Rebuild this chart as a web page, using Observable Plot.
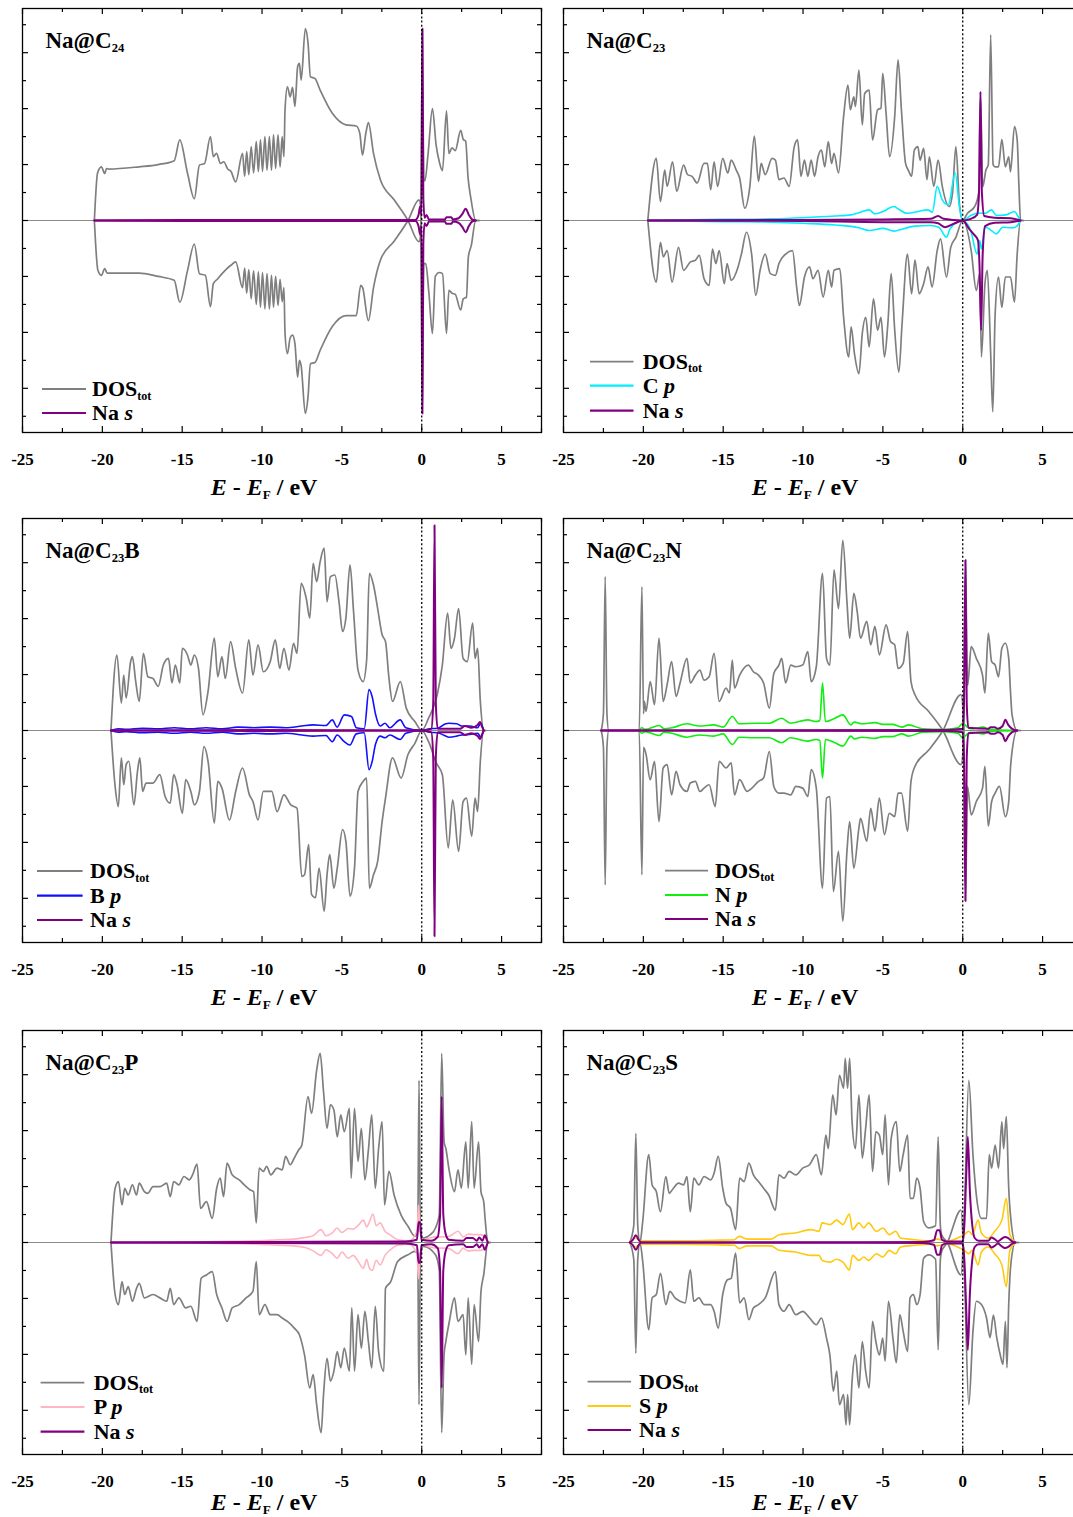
<!DOCTYPE html>
<html>
<head>
<meta charset="utf-8">
<script src="https://cdn.jsdelivr.net/npm/d3@7"></script>
<script src="https://cdn.jsdelivr.net/npm/@observablehq/plot@0.6"></script>
<style>
html, body { margin: 0; padding: 0; background: #fff; overflow: hidden; }
#root { position: relative; width: 1073px; height: 1517px; overflow: hidden; background: #fff; }
</style>
</head>
<body>
<div id="root"></div>
<script>
// ---------------- DATA: [E - EF (eV), DOS (states/eV)] ----------------
// Panel 1: Na@C24
const p1_tot_up = [[-20.5,0],[-20.3,8.5],[-20.06,9.6],[-19.85,8.4],[-19.74,9.3],[-19.6,9.2],[-17.7,9.6],[-16.5,10.0],[-15.5,10.7],[-15.15,14.4],[-14.67,8.5],[-14.24,3.9],[-13.92,9.9],[-13.6,10.2],[-13.23,15.0],[-13.05,11.4],[-12.85,12.0],[-12.6,10.2],[-12.4,10.5],[-12.15,9.2],[-11.95,8.8],[-11.65,6.9],[-11.22,12.0],[-11.09,7.9],[-10.96,12.3],[-10.83,8.2],[-10.68,13.2],[-10.53,8.5],[-10.36,14.1],[-10.23,8.75],[-10.1,14.4],[-9.97,8.8],[-9.82,15.0],[-9.69,9.0],[-9.54,15.0],[-9.41,9.0],[-9.28,15.3],[-9.15,9.3],[-9.0,15.3],[-8.87,9.6],[-8.74,15.0],[-8.63,11.4],[-8.56,19.8],[-8.41,23.9],[-8.24,22.1],[-8.09,23.8],[-7.94,20.4],[-7.77,27.5],[-7.66,28.1],[-7.55,25.1],[-7.29,34.3],[-7.12,31.7],[-6.97,25.7],[-6.69,25.4],[-6.36,23.3],[-5.61,19.2],[-4.75,17.1],[-4.1,16.9],[-3.88,15.6],[-3.71,11.7],[-3.5,15.6],[-3.34,17.5],[-3.02,12.0],[-2.59,7.3],[-1.73,3.7],[-0.86,0],[-0.17,-3.8],[-0.05,-2],[0.04,34.3],[0.12,7.5],[0.2,7.1],[0.4,12],[0.67,20.0],[0.9,13.5],[1.1,10.5],[1.3,8.9],[1.55,19.6],[1.7,12],[1.9,13],[2.1,12.5],[2.44,16.1],[2.6,14.5],[2.75,14.2],[2.9,7.7],[3.07,4.1],[3.38,0],[3.6,0]];
const p1_tot_dn = [[-20.5,0],[-20.28,-8.9],[-20.06,-9.8],[-19.85,-8.6],[-19.7,-9.4],[-17.7,-9.4],[-16.5,-10],[-15.5,-10.7],[-15.15,-14.6],[-14.67,-9],[-14.24,-4.2],[-13.92,-9.5],[-13.55,-9.8],[-13.23,-15.4],[-13.05,-11.3],[-12.8,-10.5],[-12.5,-9.5],[-12.2,-8.6],[-11.95,-8.0],[-11.65,-7.4],[-11.22,-12.0],[-11.09,-8.5],[-10.96,-13.0],[-10.83,-8.8],[-10.68,-14.0],[-10.53,-9.0],[-10.36,-15.0],[-10.23,-9.2],[-10.1,-15.5],[-9.97,-9.3],[-9.82,-15.8],[-9.69,-9.5],[-9.54,-15.8],[-9.41,-9.8],[-9.28,-15.5],[-9.15,-10],[-9.0,-15.2],[-8.87,-10.5],[-8.74,-14.5],[-8.63,-12],[-8.56,-20.2],[-8.41,-23.8],[-8.24,-21],[-8.09,-20.5],[-7.94,-22],[-7.77,-28],[-7.66,-25],[-7.55,-26],[-7.29,-34.5],[-7.12,-31.5],[-6.97,-25.6],[-6.69,-25.4],[-6.36,-23.2],[-5.61,-19],[-4.75,-17],[-4.1,-17],[-3.82,-11.6],[-3.7,-12],[-3.34,-17.9],[-3.02,-12],[-2.59,-7.1],[-1.73,-3.7],[-0.86,0],[-0.17,3.7],[-0.05,2],[0.04,-34.5],[0.12,-7.7],[0.25,-7.7],[0.45,-13],[0.67,-20.2],[0.85,-10],[1.1,-9.3],[1.3,-9.5],[1.55,-20.2],[1.7,-12.5],[1.9,-13],[2.1,-13.2],[2.44,-16],[2.6,-14],[2.8,-13.7],[2.92,-6.5],[3.1,-4.5],[3.38,0],[3.6,0]];
const p1_na_up = [[-20.5,0],[-15,0.1],[-8,0.1],[-0.4,0.1],[-0.2,1.0],[-0.1,2.5],[-0.03,1.0],[0.04,34.3],[0.1,4],[0.18,0.5],[0.3,1.0],[0.45,0.2],[1.45,0.2],[1.55,0.6],[1.85,0.6],[1.95,0.2],[2.3,0.4],[2.55,1.2],[2.75,2.1],[2.95,1.0],[3.15,0.2],[3.38,0]];
const p1_na_dn = [[-20.5,0],[-15,-0.1],[-8,-0.1],[-0.4,-0.1],[-0.2,-1.0],[-0.1,-2.5],[-0.03,-1.0],[0.04,-34.5],[0.1,-4],[0.18,-0.5],[0.3,-1.0],[0.45,-0.2],[1.45,-0.2],[1.55,-0.6],[1.85,-0.6],[1.95,-0.2],[2.3,-0.4],[2.55,-1.2],[2.75,-2.1],[2.95,-1.0],[3.15,-0.2],[3.38,0]];

// Panel 2: Na@C23
const p2_tot_up = [[-19.72,0],[-19.19,11.1],[-18.93,3.4],[-18.66,9.0],[-18.51,6.1],[-18.17,10.5],[-17.91,5.2],[-17.48,9.9],[-17.23,8.2],[-16.95,7.9],[-16.63,6.7],[-16.2,10.2],[-15.99,10.2],[-15.78,5.5],[-15.57,10.5],[-15.35,6.1],[-15.03,11.1],[-14.71,8.5],[-14.5,10.8],[-14.18,9.0],[-13.97,7.6],[-13.65,2.2],[-13.33,6.1],[-13.05,15.1],[-12.79,7.0],[-12.62,10.2],[-12.37,8.2],[-11.94,11.1],[-11.73,10.8],[-11.51,7.3],[-11.19,7.6],[-10.87,6.1],[-10.55,13.2],[-10.34,14.4],[-10.13,7.9],[-9.91,10.8],[-9.7,7.9],[-9.49,10.8],[-9.28,7.9],[-9.06,11.4],[-8.85,12.6],[-8.64,9.6],[-8.42,14.1],[-8.21,10.2],[-8.06,12.0],[-7.78,8.5],[-7.46,18.6],[-7.19,24.2],[-7.04,19.8],[-6.82,22.1],[-6.72,20.4],[-6.5,26.9],[-6.29,17.1],[-6.14,22.7],[-5.86,23.3],[-5.65,14.4],[-5.33,19.8],[-5.12,20.1],[-5.01,26.3],[-4.8,19.2],[-4.58,11.4],[-4.26,18.6],[-4.05,28.7],[-3.84,19.8],[-3.58,10.2],[-3.41,9.0],[-3.2,7.9],[-3.03,12.6],[-2.81,13.2],[-2.67,10.8],[-2.45,12.9],[-2.24,7.3],[-2.09,11.4],[-1.81,6.1],[-1.54,10.8],[-1.28,6.1],[-0.85,2.5],[-0.64,4.9],[-0.43,13.2],[-0.21,3.1],[0,0],[0.3,1.3],[0.75,2.5],[1.0,5],[1.11,23],[1.25,6],[1.45,9],[1.6,10],[1.75,33.2],[1.9,10],[2.03,9.6],[2.24,9.6],[2.45,14.5],[2.67,9.6],[2.88,11.4],[2.99,8.7],[3.24,16.8],[3.41,14.4],[3.52,6.1],[3.62,0],[3.8,0]];
const p2_tot_dn = [[-19.72,0],[-19.19,-11.0],[-18.93,-3.9],[-18.75,-6.5],[-18.51,-5.4],[-18.2,-11.0],[-17.8,-4.8],[-17.48,-8.9],[-17.05,-7.4],[-16.74,-7.1],[-16.5,-6.25],[-16.2,-10.4],[-15.88,-11.6],[-15.67,-5.1],[-15.46,-7.7],[-15.25,-5.4],[-14.93,-11.3],[-14.76,-7.7],[-14.5,-10.7],[-14.07,-8.3],[-13.86,-6.0],[-13.54,-2.1],[-13.22,-6.0],[-12.96,-13.4],[-12.69,-8.9],[-12.37,-6.0],[-12.05,-9.5],[-11.73,-9.8],[-11.51,-7.7],[-11.09,-6.0],[-10.66,-5.4],[-10.4,-11.9],[-10.23,-15.2],[-9.91,-10.1],[-9.59,-8.3],[-9.38,-10.4],[-9.06,-8.9],[-8.74,-13.7],[-8.42,-8.9],[-8.21,-11.9],[-8.06,-8.9],[-7.7,-8.6],[-7.46,-17.3],[-7.14,-24.4],[-6.99,-19.0],[-6.78,-23.8],[-6.5,-27.4],[-6.29,-20.2],[-6.07,-17.3],[-5.86,-22.6],[-5.59,-14.0],[-5.33,-19.6],[-5.12,-17.3],[-4.9,-24.4],[-4.69,-18.5],[-4.48,-9.5],[-4.26,-19.6],[-4.0,-27.1],[-3.8,-18.5],[-3.46,-6.0],[-3.2,-13.1],[-2.99,-7.1],[-2.73,-13.1],[-2.45,-11.3],[-2.17,-8.3],[-1.92,-11.9],[-1.6,-5.4],[-1.39,-3.3],[-1.02,-10.1],[-0.75,-4.8],[-0.43,-3.0],[0,0],[0.53,-5.4],[0.85,-12.5],[1.07,-9.5],[1.17,-24.4],[1.39,-11.3],[1.54,-8.9],[1.75,-23.8],[1.88,-34.2],[2.03,-16.7],[2.24,-10.1],[2.45,-15.5],[2.67,-10.1],[2.99,-10.1],[3.24,-14.6],[3.41,-6.0],[3.62,0],[3.8,0]];
const p2_cp_up = [[-19.7,0],[-15,0.2],[-12,0.3],[-10,0.5],[-8,0.8],[-7,1.0],[-6.5,1.4],[-5.86,1.9],[-5.5,1.2],[-5,1.6],[-4.3,2.5],[-4.05,2.1],[-3.5,1.3],[-2.8,1.6],[-2.2,1.9],[-1.9,1.5],[-1.6,6.1],[-1.28,3.7],[-0.9,2.8],[-0.47,8.5],[-0.21,2.5],[0,0],[0.5,0.9],[0.9,1.3],[1.4,1.3],[1.8,1.9],[2.1,0.9],[2.7,1.0],[3.24,1.6],[3.45,0.8],[3.62,0]];
const p2_cp_dn = [[-19.7,0],[-15,-0.2],[-12,-0.3],[-10,-0.5],[-8,-0.8],[-6.5,-1.3],[-5.86,-1.8],[-5,-1.4],[-4.3,-1.9],[-4.0,-1.7],[-3,-1.0],[-2,-0.9],[-1.5,-1.2],[-1.02,-3.0],[-0.8,-1.5],[0,0],[0.5,-1.8],[0.9,-6.0],[1.07,-3.6],[1.17,-5.1],[1.4,-1.2],[1.8,-1.8],[2.1,-2.4],[2.5,-1.2],[3.0,-1.3],[3.3,-1.2],[3.62,0]];
const p2_na_up = [[-19.7,0],[-10,0.1],[-5,0.2],[-2,0.3],[-1.54,0.8],[-1.2,0.3],[0,0],[0.5,0.3],[0.9,1],[1.02,5],[1.11,23.0],[1.2,5],[1.35,0.8],[2,0.5],[3,0.4],[3.62,0]];
const p2_na_dn = [[-19.7,0],[-10,-0.1],[-5,-0.3],[-2,-0.3],[-1.54,-0.5],[-1.1,-1.2],[-0.5,-0.5],[0,0],[0.4,-1.5],[0.7,-2.5],[0.95,-3.5],[1.05,-8],[1.15,-19.6],[1.25,-6],[1.4,-1],[2,-0.4],[3,-0.3],[3.62,0]];

// Panel 3: Na@C23B
const p3_tot_up = [[-19.46,0],[-19.09,13.5],[-18.81,4.9],[-18.66,9.9],[-18.51,5.8],[-18.23,12.3],[-18.12,13.2],[-17.91,8.75],[-17.69,5.2],[-17.43,13.8],[-17.15,9.6],[-16.83,9.3],[-16.5,7.9],[-16.18,11.7],[-15.86,12.9],[-15.64,8.5],[-15.43,11.7],[-15.15,8.5],[-14.99,14.7],[-14.67,13.5],[-14.46,11.7],[-14.24,13.5],[-13.98,11.1],[-13.7,2.8],[-13.38,7.0],[-12.99,16.5],[-12.77,9.6],[-12.51,13.2],[-12.3,9.3],[-11.97,15.9],[-11.65,11.1],[-11.22,6.7],[-10.83,16.2],[-10.57,9.9],[-10.25,15.3],[-9.92,10.5],[-9.49,12.3],[-9.17,16.2],[-8.89,11.1],[-8.63,14.7],[-8.31,10.8],[-8.03,15.6],[-7.81,13.8],[-7.55,26.3],[-7.23,23.6],[-7.01,20.1],[-6.8,29.9],[-6.58,26.6],[-6.36,30.2],[-6.11,32.6],[-5.93,23.0],[-5.72,27.5],[-5.44,27.8],[-5.18,23.0],[-4.96,17.7],[-4.75,20.1],[-4.49,29.6],[-4.27,21.3],[-3.99,10.8],[-3.67,8.75],[-3.45,12.6],[-3.28,28.1],[-3.02,26.0],[-2.76,21.8],[-2.48,17.1],[-2.27,15.9],[-2.05,9.3],[-1.83,5.2],[-1.34,8.75],[-0.97,4.0],[-0.43,1.6],[0,0],[0.43,2.2],[0.97,6.4],[1.29,11.7],[1.62,21.0],[1.83,14.7],[2.05,16.5],[2.31,21.8],[2.59,12.9],[2.85,12.3],[3.19,19.2],[3.34,12.9],[3.5,14.7],[3.67,5.2],[3.88,0],[4.0,0]];
const p3_tot_dn = [[-19.46,0],[-19.2,-10],[-19.0,-13.6],[-18.81,-4.9],[-18.66,-9.7],[-18.51,-6.1],[-18.34,-5.5],[-18.02,-13.3],[-17.8,-7.3],[-17.65,-4.9],[-17.48,-10.9],[-17.26,-9.4],[-16.83,-9.4],[-16.4,-7.9],[-16.07,-11.8],[-15.75,-13.0],[-15.53,-7.9],[-15.32,-9.7],[-14.99,-14.8],[-14.78,-8.8],[-14.46,-10.9],[-14.24,-13.3],[-13.92,-10.9],[-13.64,-2.9],[-13.38,-5.5],[-12.99,-16.5],[-12.77,-9.1],[-12.51,-10.3],[-12.04,-16.0],[-11.65,-10.9],[-11.22,-6.7],[-10.79,-11.5],[-10.57,-12.7],[-10.25,-16.0],[-9.92,-10.9],[-9.39,-10.9],[-9.06,-14.5],[-8.63,-11.5],[-8.2,-13.3],[-7.81,-13.9],[-7.51,-26.1],[-7.34,-25.8],[-7.08,-20.4],[-6.9,-29.3],[-6.65,-29.9],[-6.43,-24.6],[-6.11,-32.3],[-5.93,-25.8],[-5.76,-22.2],[-5.5,-28.2],[-5.29,-24.6],[-4.96,-17.7],[-4.75,-19.8],[-4.49,-29.6],[-4.21,-24.6],[-3.99,-10.9],[-3.67,-9.1],[-3.45,-8.5],[-3.28,-28.2],[-3.02,-25.8],[-2.76,-23.4],[-2.48,-16.3],[-2.27,-12.1],[-1.83,-4.9],[-1.29,-8.5],[-0.86,-4.3],[-0.43,-2.3],[0,0],[0.43,-2.0],[0.91,-5.8],[1.29,-7.9],[1.66,-21.0],[1.94,-12.4],[2.31,-21.6],[2.59,-12.7],[2.8,-12.1],[3.13,-18.9],[3.34,-12.1],[3.5,-14.5],[3.67,-5.5],[3.88,0],[4.0,0]];
const p3_bp_up = [[-19.46,0],[-19.0,0.3],[-18.5,0.2],[-17.5,0.4],[-16.5,0.3],[-15.5,0.5],[-14.5,0.3],[-13.5,0.5],[-12.5,0.3],[-11.5,0.6],[-10.5,0.5],[-9.5,0.6],[-8.5,0.5],[-7.5,0.8],[-6.8,1.0],[-6.0,0.9],[-5.6,1.9],[-5.3,0.6],[-4.85,2.8],[-4.4,2.5],[-4.1,0.5],[-3.6,0.3],[-3.3,7.3],[-3.1,6],[-2.9,3],[-2.6,0.8],[-2.3,1.3],[-2.0,0.5],[-1.35,1.9],[-1.0,0.5],[0,0],[0.5,0.3],[1.0,0.4],[1.5,1.2],[1.7,1.3],[2.2,1.2],[2.5,0.8],[3.0,0.8],[3.5,0.5],[3.7,1.3],[3.88,0]];
const p3_bp_dn = [[-19.46,0],[-19.0,-0.3],[-18.5,-0.2],[-17.5,-0.4],[-16.5,-0.3],[-15.5,-0.5],[-14.5,-0.3],[-13.5,-0.5],[-12.5,-0.3],[-11.5,-0.6],[-10.5,-0.5],[-9.5,-0.6],[-8.5,-0.5],[-7.5,-0.8],[-6.8,-1.0],[-6.0,-0.9],[-5.6,-2.0],[-5.3,-0.8],[-4.85,-2.0],[-4.5,-2.6],[-4.1,-0.6],[-3.6,-0.4],[-3.3,-7.0],[-3.1,-5.5],[-2.9,-2.5],[-2.6,-1.0],[-2.3,-1.3],[-2.0,-0.8],[-1.35,-1.6],[-1.0,-0.5],[0,0],[0.5,-0.3],[1.0,-0.4],[1.5,-1.0],[1.7,-1.2],[2.2,-1.0],[2.5,-0.8],[3.0,-0.7],[3.5,-0.5],[3.7,-1.2],[3.88,0]];
const p3_na_up = [[-19.46,0],[-10,0.1],[0,0],[0.6,0.3],[0.72,5],[0.8,36.7],[0.88,5],[1.0,0.3],[2.4,0.3],[2.7,0.8],[3.1,0.5],[3.5,1.0],[3.65,1.5],[3.8,0.5],[3.88,0]];
const p3_na_dn = [[-19.46,0],[-10,-0.1],[0,0],[0.6,-0.3],[0.72,-5],[0.8,-36.8],[0.88,-5],[1.0,-0.3],[2.4,-0.3],[2.7,-0.8],[3.1,-0.5],[3.5,-1.0],[3.65,-1.5],[3.8,-0.5],[3.88,0]];

// Panel 4: Na@C23N
const p4_tot_up = [[-22.64,0],[-22.5,3],[-22.39,27.5],[-22.28,3],[-22.17,0],[-20.26,0],[-20.09,25.7],[-19.99,3],[-19.94,5.2],[-19.83,3.4],[-19.57,8.75],[-19.3,4.6],[-19.02,16.5],[-18.76,5.2],[-18.51,8.2],[-18.23,12.3],[-17.95,6.1],[-17.7,8.5],[-17.27,12.9],[-17.06,8.5],[-16.74,9.9],[-16.46,10.8],[-16.2,9.0],[-15.88,9.6],[-15.57,13.8],[-15.25,5.2],[-14.82,7.6],[-14.61,6.7],[-14.43,12.6],[-14.29,7.6],[-13.97,9.9],[-13.43,11.7],[-13.11,10.5],[-12.79,9.9],[-12.47,8.5],[-12.11,4.0],[-11.83,10.2],[-11.51,11.7],[-11.34,12.9],[-11.09,8.5],[-10.77,11.7],[-10.45,11.4],[-10.02,11.7],[-9.7,14.1],[-9.49,8.75],[-9.17,11.4],[-8.78,28.1],[-8.53,12.9],[-8.32,11.7],[-8.06,28.7],[-7.78,21.8],[-7.51,34.0],[-7.25,23.0],[-7.08,16.5],[-6.82,24.5],[-6.61,21.3],[-6.4,16.5],[-6.01,19.5],[-5.76,15.3],[-5.5,18.6],[-5.22,13.5],[-4.8,18.9],[-4.52,15.9],[-4.26,15.3],[-4.05,11.1],[-3.73,12.0],[-3.45,17.7],[-3.24,8.75],[-2.99,6.4],[-2.13,3.4],[-1.24,0],[-0.11,-6.1],[0.05,-2],[0.17,30.5],[0.3,8],[0.38,10],[0.53,15.0],[0.85,12.9],[1.24,9.9],[1.39,6.7],[1.6,17.4],[1.81,12.3],[2.03,11.7],[2.24,9.6],[2.45,14.7],[2.67,15.6],[2.88,12.9],[2.99,7.0],[3.09,2.8],[3.41,0],[3.6,0]];
const p4_tot_dn = [[-22.64,0],[-22.5,-3],[-22.39,-27.6],[-22.28,-3],[-22.17,0],[-20.26,0],[-20.09,-25.8],[-19.99,-3],[-19.94,-3.2],[-19.83,-4.3],[-19.57,-8.8],[-19.3,-5.5],[-19.02,-16.3],[-18.76,-6.7],[-18.51,-6.1],[-18.23,-11.5],[-17.95,-7.3],[-17.7,-9.7],[-17.27,-10.9],[-17.06,-9.4],[-16.74,-9.1],[-16.46,-10.9],[-16.2,-10.3],[-15.88,-9.7],[-15.5,-13.6],[-15.25,-5.5],[-14.82,-6.7],[-14.5,-5.8],[-14.29,-11.5],[-13.97,-8.8],[-13.5,-10.9],[-13.2,-10.3],[-12.79,-9.1],[-12.47,-8.5],[-12.11,-3.75],[-11.83,-10.0],[-11.51,-11.2],[-11.2,-11.2],[-10.77,-11.5],[-10.45,-10.0],[-10.02,-10.3],[-9.7,-11.8],[-9.49,-7.0],[-9.17,-10.3],[-8.78,-28.2],[-8.53,-12.1],[-8.32,-11.8],[-8.1,-28.8],[-7.78,-21.6],[-7.51,-34.1],[-7.25,-21.6],[-7.08,-16.3],[-6.82,-24.6],[-6.5,-17.4],[-6.4,-15.7],[-6.01,-19.8],[-5.76,-13.9],[-5.5,-18.0],[-5.22,-12.1],[-4.9,-18.6],[-4.6,-14.8],[-4.26,-15.4],[-4.05,-11.2],[-3.84,-11.2],[-3.45,-18.0],[-3.24,-9.1],[-2.99,-6.4],[-2.13,-3.5],[-1.24,0],[-0.11,6.4],[0.05,2],[0.17,-30.5],[0.3,-10],[0.53,-15.1],[0.85,-12.7],[1.24,-10.3],[1.39,-6.4],[1.6,-17.1],[1.81,-12.7],[2.03,-11.2],[2.3,-10.0],[2.67,-15.4],[2.88,-12.7],[2.99,-6.7],[3.09,-3.75],[3.41,0],[3.6,0]];
const p4_np_up = [[-20.3,0],[-20.09,0.5],[-19.9,0.2],[-19.0,0.9],[-18.7,0.3],[-18.2,0.5],[-17.27,1.2],[-16.5,0.8],[-15.6,1.0],[-15.0,0.6],[-14.43,2.5],[-14.0,1.2],[-13.0,1.3],[-12.11,1.3],[-11.34,2.2],[-10.8,1.3],[-9.7,1.9],[-9.2,1.6],[-8.95,1.8],[-8.78,8.5],[-8.6,1.6],[-8.0,2.2],[-7.51,2.8],[-7.0,1.0],[-6.8,1.5],[-6.3,1.2],[-5.5,1.4],[-5.0,1.1],[-4.4,1.1],[-3.8,0.6],[-3.4,1.0],[-2.5,0.3],[-1.24,0.2],[-0.3,0.5],[0,1.3],[0.3,0.6],[0.5,0.3],[1.3,0.6],[1.6,0.2],[3.41,0]];
const p4_np_dn = [[-20.3,0],[-20.09,-0.5],[-19.9,-0.2],[-19.0,-0.9],[-18.7,-0.3],[-18.2,-0.5],[-17.27,-1.2],[-16.5,-0.8],[-15.6,-1.0],[-15.0,-0.6],[-14.43,-2.5],[-14.0,-1.2],[-13.0,-1.3],[-12.11,-1.3],[-11.34,-2.2],[-10.8,-1.3],[-9.7,-1.9],[-9.2,-1.6],[-8.95,-1.8],[-8.78,-8.5],[-8.6,-1.6],[-8.0,-2.2],[-7.51,-2.8],[-7.0,-1.0],[-6.8,-1.5],[-6.3,-1.2],[-5.5,-1.4],[-5.0,-1.1],[-4.4,-1.1],[-3.8,-0.6],[-3.4,-1.0],[-2.5,-0.3],[-1.24,-0.2],[-0.3,-0.5],[0,-1.3],[0.3,-0.6],[0.5,-0.3],[1.3,-0.6],[1.6,-0.2],[3.41,0]];
const p4_na_up = [[-22.64,0],[-1,0.1],[0,0.3],[0.08,5],[0.17,30.5],[0.25,5],[0.35,0.5],[1.6,0.3],[1.75,0.6],[2.0,0.6],[2.2,0.3],[2.5,0.8],[2.67,1.9],[2.85,1.0],[3.1,0.3],[3.41,0]];
const p4_na_dn = [[-22.64,0],[-1,-0.1],[0,-0.3],[0.08,-5],[0.17,-30.5],[0.25,-5],[0.35,-0.5],[1.6,-0.3],[1.75,-0.6],[2.0,-0.6],[2.2,-0.3],[2.5,-0.8],[2.67,-1.9],[2.85,-1.0],[3.1,-0.3],[3.41,0]];

// Panel 5: Na@C23P
const p5_tot_up = [[-19.46,0],[-19.2,9.7],[-18.99,10.9],[-18.77,6.7],[-18.6,9.7],[-18.38,8.5],[-18.12,10.3],[-17.86,8.5],[-17.69,10.6],[-17.37,9.1],[-17.15,8.8],[-16.83,10.0],[-16.4,10.0],[-15.97,10.6],[-15.75,8.2],[-15.53,10.9],[-15.21,10.3],[-14.89,11.8],[-14.56,11.2],[-14.35,12.1],[-14.07,14.0],[-13.85,6.1],[-13.48,7.3],[-13.12,4.3],[-12.84,9.7],[-12.62,11.5],[-12.41,8.2],[-12.19,14.2],[-11.87,12.1],[-11.43,11.2],[-11.11,10.3],[-10.74,9.4],[-10.53,9.1],[-10.36,3.5],[-10.18,13.3],[-9.92,12.7],[-9.71,13.6],[-9.45,12.1],[-9.06,13.3],[-8.74,13.0],[-8.52,15.4],[-8.24,13.9],[-7.98,15.1],[-7.72,16.5],[-7.51,17.4],[-7.12,26.1],[-6.9,23.1],[-6.58,30.8],[-6.36,33.8],[-6.15,27.0],[-5.93,20.4],[-5.72,24.6],[-5.5,23.7],[-5.29,18.9],[-5.07,22.8],[-4.85,19.8],[-4.53,24.0],[-4.42,11.5],[-4.21,24.0],[-3.99,14.5],[-3.78,20.4],[-3.56,11.2],[-3.34,16.5],[-3.13,22.8],[-2.91,9.7],[-2.7,16.8],[-2.48,21.6],[-2.33,6.7],[-2.05,12.7],[-1.73,8.5],[-1.29,4.9],[-0.86,2.9],[-0.43,1.1],[-0.25,2],[-0.17,29.0],[-0.08,2],[0.11,0.8],[0.54,1.4],[0.86,2.6],[1.1,5],[1.25,33.8],[1.4,18],[1.51,16.8],[1.73,12.7],[2.05,9.1],[2.27,13.0],[2.48,9.7],[2.76,18.0],[2.91,9.7],[3.13,21.6],[3.28,9.7],[3.56,18.0],[3.71,9.1],[3.88,7.3],[3.99,3.5],[4.14,0],[4.3,0]];
const p5_tot_dn = [[-19.46,0],[-19.2,-9.3],[-18.99,-11.1],[-18.77,-7.0],[-18.6,-9.3],[-18.38,-7.9],[-18.12,-10.5],[-17.86,-8.2],[-17.69,-7.3],[-17.37,-9.9],[-16.83,-9.3],[-16.4,-9.9],[-15.97,-10.5],[-15.75,-8.2],[-15.53,-11.1],[-15.21,-9.9],[-14.78,-11.7],[-14.46,-11.4],[-14.07,-14.1],[-13.81,-6.4],[-13.48,-5.8],[-13.12,-5.2],[-12.84,-9.3],[-12.51,-11.7],[-12.19,-14.1],[-11.87,-11.7],[-11.43,-11.1],[-11.0,-9.9],[-10.57,-8.75],[-10.36,-3.4],[-10.18,-12.9],[-9.82,-11.1],[-9.49,-12.9],[-9.06,-12.9],[-8.74,-13.5],[-8.41,-14.1],[-7.98,-15.3],[-7.66,-16.5],[-7.34,-20.1],[-7.01,-26.0],[-6.8,-23.6],[-6.58,-29.0],[-6.3,-34.0],[-6.15,-27.2],[-5.93,-20.7],[-5.72,-24.8],[-5.5,-23.0],[-5.29,-19.5],[-5.07,-22.4],[-4.85,-18.9],[-4.53,-23.0],[-4.38,-11.7],[-4.21,-23.0],[-3.99,-12.9],[-3.78,-18.9],[-3.56,-12.3],[-3.34,-17.7],[-3.13,-22.4],[-2.91,-11.4],[-2.7,-19.5],[-2.37,-23.0],[-2.27,-8.2],[-1.94,-7.0],[-1.51,-3.4],[-0.86,-2.2],[-0.43,-1.6],[-0.25,-2],[-0.17,-29.0],[-0.08,-2],[0.11,-0.7],[0.86,-2.2],[1.1,-5],[1.25,-34.0],[1.4,-20],[1.51,-17.7],[1.73,-14.1],[2.05,-9.9],[2.27,-14.1],[2.59,-12.9],[2.76,-20.1],[2.91,-9.9],[3.13,-21.8],[3.28,-11.1],[3.56,-17.7],[3.71,-8.75],[3.88,-5.8],[4.14,0],[4.3,0]];
const p5_pp_up = [[-19.46,0],[-15,0.1],[-12,0.2],[-10.3,0.3],[-9,0.5],[-8,0.6],[-7.3,0.9],[-6.8,1.2],[-6.3,2.3],[-6.0,1.2],[-5.6,1.7],[-5.3,2.6],[-5.0,1.8],[-4.6,2.5],[-4.3,2.4],[-4.0,3.0],[-3.65,4.0],[-3.45,2.8],[-3.3,3.5],[-3.05,5.1],[-2.85,3.0],[-2.6,3.5],[-2.3,2.0],[-2.0,1.4],[-1.5,0.5],[-0.8,0.3],[-0.3,2],[-0.2,6.7],[-0.1,2],[0.1,0.4],[0.5,0.8],[0.9,1.0],[1.5,1.0],[1.8,1.2],[2.27,2.0],[2.6,1.0],[2.9,1.5],[3.3,1.4],[3.7,1.4],[4.0,0.8],[4.14,0]];
const p5_pp_dn = [[-19.46,0],[-15,-0.1],[-12,-0.2],[-10.3,-0.3],[-9,-0.5],[-8,-0.6],[-7.3,-0.9],[-6.8,-1.5],[-6.3,-2.3],[-6.0,-1.3],[-5.6,-2.0],[-5.3,-2.8],[-5.0,-1.7],[-4.6,-2.8],[-4.3,-2.3],[-4.0,-3.3],[-3.65,-4.6],[-3.45,-3.0],[-3.3,-4.4],[-3.1,-5.0],[-2.85,-3.2],[-2.6,-4.0],[-2.3,-2.3],[-2.0,-1.4],[-1.5,-0.5],[-0.8,-0.3],[-0.3,-2],[-0.2,-6.5],[-0.1,-2],[0.1,-0.4],[0.5,-0.8],[0.9,-1.0],[1.5,-1.0],[1.8,-1.2],[2.27,-2.0],[2.6,-1.0],[2.9,-1.5],[3.3,-1.4],[3.7,-1.4],[4.0,-0.8],[4.14,0]];
const p5_na_up = [[-19.46,0],[-10,0.1],[-1,0.2],[-0.3,0.5],[-0.2,3.6],[-0.1,3.6],[-0.02,0.5],[0.6,0.3],[1.0,1.0],[1.15,5],[1.25,26.1],[1.35,5],[1.5,1.5],[1.7,0.5],[2.6,0.3],[2.8,0.8],[3.2,0.8],[3.45,0.3],[3.6,0.9],[3.8,0.3],[3.95,1.3],[4.1,0.3],[4.14,0]];
const p5_na_dn = [[-19.46,0],[-10,-0.1],[-1,-0.2],[-0.3,-0.5],[-0.2,-3.6],[-0.1,-3.6],[-0.02,-0.5],[0.6,-0.3],[1.0,-1.0],[1.15,-5],[1.25,-26.0],[1.35,-5],[1.5,-1.5],[1.7,-0.5],[2.6,-0.3],[2.8,-0.8],[3.2,-0.8],[3.45,-0.3],[3.6,-0.9],[3.8,-0.3],[3.95,-1.3],[4.1,-0.3],[4.14,0]];

// Panel 6: Na@C23S
const p6_tot_up = [[-20.85,0],[-20.6,3],[-20.47,19.5],[-20.35,3],[-20.21,0],[-20.04,3.75],[-19.66,15.7],[-19.45,10.3],[-19.19,9.1],[-18.93,5.5],[-18.59,11.8],[-18.38,8.8],[-18.12,9.7],[-17.8,10.6],[-17.48,10.3],[-17.27,11.8],[-17.06,5.5],[-16.84,11.5],[-16.52,10.3],[-16.2,11.8],[-15.78,11.2],[-15.57,12.4],[-15.31,15.4],[-15.03,9.7],[-14.82,7.0],[-14.54,6.1],[-14.22,2.3],[-13.97,11.5],[-13.69,10.9],[-13.39,14.2],[-13.11,12.1],[-12.79,10.9],[-12.47,9.7],[-12.15,8.5],[-11.73,5.8],[-11.51,12.1],[-11.19,11.5],[-10.87,12.7],[-10.45,12.1],[-10.02,13.3],[-9.59,13.9],[-9.17,15.7],[-8.85,12.1],[-8.57,19.2],[-8.42,16.8],[-8.14,26.4],[-7.93,22.8],[-7.72,29.9],[-7.46,27.6],[-7.36,32.9],[-7.21,27.6],[-7.08,32.9],[-6.93,21.6],[-6.72,16.8],[-6.5,26.4],[-6.29,15.1],[-6.08,20.4],[-5.86,26.4],[-5.65,12.7],[-5.44,19.8],[-5.22,19.2],[-5.01,15.7],[-4.86,22.8],[-4.65,10.3],[-4.48,18.6],[-4.16,21.6],[-3.94,12.7],[-3.73,15.7],[-3.45,19.2],[-3.3,7.9],[-3.09,7.9],[-2.88,11.5],[-2.67,9.7],[-2.45,3.75],[-2.13,2.6],[-1.7,3],[-1.54,18.9],[-1.4,3],[-1.32,1.4],[-0.96,0],[-0.11,-5.8],[0.1,5],[0.38,29.0],[0.64,15.7],[0.85,8.5],[1.17,4.3],[1.49,4.3],[1.66,15.7],[1.81,13.3],[2.03,17.4],[2.24,13.3],[2.45,21.6],[2.56,16.8],[2.73,22.5],[2.88,9.7],[2.99,4.9],[3.3,0],[3.5,0]];
const p6_tot_dn = [[-20.85,0],[-20.6,-3],[-20.47,-19.8],[-20.35,-3],[-20.21,0],[-20.04,-3.4],[-19.66,-15.6],[-19.45,-9.9],[-19.19,-9.3],[-18.93,-5.5],[-18.59,-11.1],[-18.34,-8.75],[-18.02,-9.9],[-17.7,-10.5],[-17.38,-10.8],[-17.06,-4.9],[-16.84,-10.5],[-16.52,-9.9],[-16.2,-11.1],[-15.78,-11.1],[-15.57,-12.3],[-15.31,-15.3],[-15.03,-9.3],[-14.75,-6.7],[-14.5,-6.4],[-14.22,-1.9],[-13.97,-10.8],[-13.69,-9.9],[-13.39,-13.8],[-13.11,-11.7],[-12.79,-11.1],[-12.37,-9.9],[-11.73,-5.2],[-11.51,-11.1],[-11.19,-12.3],[-10.87,-11.1],[-10.45,-12.9],[-10.02,-12.3],[-9.59,-13.5],[-9.17,-14.7],[-8.85,-13.5],[-8.53,-17.1],[-8.32,-20.1],[-8.1,-26.6],[-7.89,-23.0],[-7.72,-29.0],[-7.46,-27.2],[-7.31,-32.6],[-7.21,-27.2],[-7.08,-32.6],[-6.93,-24.8],[-6.72,-20.1],[-6.5,-26.0],[-6.29,-17.7],[-6.08,-23.0],[-5.86,-26.0],[-5.65,-14.1],[-5.44,-17.7],[-5.22,-20.1],[-5.01,-17.1],[-4.86,-21.2],[-4.65,-10.5],[-4.37,-17.1],[-4.16,-21.5],[-3.94,-12.9],[-3.73,-15.9],[-3.45,-19.5],[-3.3,-9.9],[-3.09,-9.3],[-2.88,-11.1],[-2.67,-9.3],[-2.45,-2.8],[-2.13,-2.2],[-1.7,-3],[-1.54,-19.2],[-1.4,-3],[-1.32,-1.6],[-0.96,0],[-0.11,5.8],[0.1,-5],[0.38,-29.0],[0.64,-15.9],[0.85,-10.5],[1.17,-11.1],[1.49,-13.5],[1.71,-17.0],[1.92,-13.0],[2.13,-17.0],[2.35,-20.1],[2.52,-21.8],[2.67,-14.1],[2.77,-22.4],[2.88,-11.1],[3.03,-3.4],[3.3,0],[3.5,0]];
const p6_sp_up = [[-20.85,0],[-20.5,0.8],[-20.2,0.3],[-18,0.3],[-15.5,0.4],[-14.3,0.5],[-14.0,1.1],[-13.5,0.6],[-12,0.6],[-11.5,1.4],[-10.5,1.7],[-9.5,2.3],[-9,2.0],[-8.8,3.5],[-8.3,3.2],[-7.9,4.0],[-7.5,3.2],[-7.1,5.1],[-6.9,2.3],[-6.5,3.5],[-6.2,2.6],[-5.9,3.5],[-5.4,2.0],[-5.0,2.6],[-4.6,1.4],[-4.2,2.0],[-3.9,0.8],[-3.0,0.5],[-2.0,0.3],[-1.6,0.6],[-1.0,0.2],[-0.1,1.1],[0.1,1.4],[0.38,2.0],[0.6,1.4],[0.96,4.0],[1.17,1.7],[1.6,0.8],[2.0,2.0],[2.45,4.0],[2.73,7.9],[2.95,1.4],[3.3,0]];
const p6_sp_dn = [[-20.85,0],[-20.5,-0.8],[-20.2,-0.3],[-18,-0.3],[-15.5,-0.4],[-14.3,-0.5],[-14.0,-1.1],[-13.5,-0.6],[-12,-0.6],[-11.5,-1.4],[-10.5,-1.7],[-9.5,-2.3],[-9,-2.3],[-8.8,-3.2],[-8.3,-3.5],[-7.9,-3.0],[-7.5,-3.5],[-7.1,-4.9],[-6.9,-2.3],[-6.5,-3.2],[-6.2,-2.6],[-5.9,-3.2],[-5.4,-2.0],[-5.0,-2.6],[-4.6,-1.4],[-4.2,-2.0],[-3.9,-0.8],[-3.0,-0.5],[-2.0,-0.3],[-1.6,-0.6],[-1.0,-0.2],[-0.1,-1.1],[0.1,-1.4],[0.38,-2.0],[0.6,-1.4],[0.96,-4.0],[1.17,-1.7],[1.6,-0.8],[2.0,-2.0],[2.45,-4.0],[2.73,-7.9],[2.95,-1.4],[3.3,0]];
const p6_na_up = [[-20.85,0],[-20.65,0.5],[-20.47,1.3],[-20.3,0.5],[-20.1,0],[-2.5,0.1],[-1.8,0.4],[-1.6,2.2],[-1.45,2.2],[-1.3,0.5],[-1.0,0.2],[0,0.2],[0.1,3],[0.22,12],[0.32,18.9],[0.45,9],[0.6,3],[0.75,0.8],[1.0,0.3],[1.6,0.3],[1.8,0.9],[2.0,0.6],[2.2,0.2],[2.5,0.8],[2.65,1.0],[2.85,0.8],[3.1,0.2],[3.3,0]];
const p6_na_dn = [[-20.85,0],[-20.65,-0.5],[-20.47,-1.3],[-20.3,-0.5],[-20.1,0],[-2.5,-0.1],[-1.8,-0.4],[-1.6,-2.2],[-1.45,-2.2],[-1.3,-0.5],[-1.0,-0.2],[0,-0.2],[0.1,-3],[0.22,-12],[0.32,-19.2],[0.45,-9],[0.6,-3],[0.75,-0.8],[1.0,-0.3],[1.6,-0.3],[1.8,-0.9],[2.0,-0.6],[2.2,-0.2],[2.5,-0.8],[2.65,-1.0],[2.85,-0.8],[3.1,-0.2],[3.3,0]];

// Ticks
const xTickVals = [-25,-22.5,-20,-17.5,-15,-12.5,-10,-7.5,-5,-2.5,0,2.5,5,7.5];
const xLabelVals = [-25,-20,-15,-10,-5,0,5];
const yTickVals = [-35,-30,-25,-20,-15,-10,-5,0,5,10,15,20,25,30,35];
const xDomain = [-25, 7.5];
const yMax = 37.9;

// ---------------- STYLE ----------------
const FONT = "'Liberation Serif', 'DejaVu Serif', serif";
const GRAY = "#7f7f7f", PURPLE = "#800080", CYAN = "#00eeff", BLUE = "#1010ff", GREEN = "#10ee10", PINK = "#ffb6c1", GOLD = "#ffc90e";
const W = 545, H = 502, ML = 22, MR = 4, MT = 8, MB = 70;
const FW = W - ML - MR, FH = H - MT - MB;
const pxX = FW / (xDomain[1] - xDomain[0]);
const pxY = FH / (2 * yMax);
const MAJ = 6, MIN = 4;

const S = (t, k) => [t, k];
const panels = [
  {left: 0, top: 0, titleDy: 63, title: [S("Na@C"), S("24", "sub")],
   lines: [[p1_tot_up, GRAY, 1.7], [p1_tot_dn, GRAY, 1.7], [p1_na_up, PURPLE, 2], [p1_na_dn, PURPLE, 2]],
   legend: {rows: [381, 405], lx: [20, 64], tx: 70, items: [[GRAY, [S("DOS"), S("tot", "sub")]], [PURPLE, [S("Na "), S("s", "i")]]]}},
  {left: 541, top: 0, titleDy: 63, title: [S("Na@C"), S("23", "sub")],
   lines: [[p2_tot_up, GRAY, 1.7], [p2_tot_dn, GRAY, 1.7], [p2_cp_up, CYAN, 1.6], [p2_cp_dn, CYAN, 1.6], [p2_na_up, PURPLE, 2], [p2_na_dn, PURPLE, 2]],
   legend: {rows: [353.7, 377.7, 402.7], lx: [27, 70.5], tx: 79.7, items: [[GRAY, [S("DOS"), S("tot", "sub")]], [CYAN, [S("C "), S("p", "i")]], [PURPLE, [S("Na "), S("s", "i")]]]}},
  {left: 0, top: 510, titleDy: 63, title: [S("Na@C"), S("23", "sub"), S("B")],
   lines: [[p3_tot_up, GRAY, 1.7], [p3_tot_dn, GRAY, 1.7], [p3_bp_up, BLUE, 1.6], [p3_bp_dn, BLUE, 1.6], [p3_na_up, PURPLE, 2], [p3_na_dn, PURPLE, 2]],
   legend: {rows: [353, 377.7, 402], lx: [15, 60.6], tx: 68, items: [[GRAY, [S("DOS"), S("tot", "sub")]], [BLUE, [S("B "), S("p", "i")]], [PURPLE, [S("Na "), S("s", "i")]]]}},
  {left: 541, top: 510, titleDy: 63, title: [S("Na@C"), S("23", "sub"), S("N")],
   lines: [[p4_tot_up, GRAY, 1.7], [p4_tot_dn, GRAY, 1.7], [p4_np_up, GREEN, 1.6], [p4_np_dn, GREEN, 1.6], [p4_na_up, PURPLE, 2], [p4_na_dn, PURPLE, 2]],
   legend: {rows: [352.7, 377, 401], lx: [102, 145], tx: 152, items: [[GRAY, [S("DOS"), S("tot", "sub")]], [GREEN, [S("N "), S("p", "i")]], [PURPLE, [S("Na "), S("s", "i")]]]}},
  {left: 0, top: 1022, titleDy: 56, title: [S("Na@C"), S("23", "sub"), S("P")],
   lines: [[p5_tot_up, GRAY, 1.7], [p5_tot_dn, GRAY, 1.7], [p5_pp_up, PINK, 1.6], [p5_pp_dn, PINK, 1.6], [p5_na_up, PURPLE, 2], [p5_na_dn, PURPLE, 2]],
   legend: {rows: [352.7, 377, 401.7], lx: [18.6, 62.4], tx: 71.7, items: [[GRAY, [S("DOS"), S("tot", "sub")]], [PINK, [S("P "), S("p", "i")]], [PURPLE, [S("Na "), S("s", "i")]]]}},
  {left: 541, top: 1022, titleDy: 56, title: [S("Na@C"), S("23", "sub"), S("S")],
   lines: [[p6_tot_up, GRAY, 1.7], [p6_tot_dn, GRAY, 1.7], [p6_sp_up, GOLD, 1.6], [p6_sp_dn, GOLD, 1.6], [p6_na_up, PURPLE, 2], [p6_na_dn, PURPLE, 2]],
   legend: {rows: [351.7, 376, 400], lx: [24.6, 68], tx: 76, items: [[GRAY, [S("DOS"), S("tot", "sub")]], [GOLD, [S("S "), S("p", "i")]], [PURPLE, [S("Na "), S("s", "i")]]]}}
];

function richText(g, x, y, parts, size, anchor) {
  const t = g.append("text")
    .attr("x", x).attr("y", y)
    .attr("font-family", FONT).attr("font-weight", "bold")
    .attr("font-size", size).attr("fill", "#000")
    .attr("text-anchor", anchor || "start")
    .style("white-space", "pre");
  let shifted = 0;
  for (const [s, k] of parts) {
    const ts = t.append("tspan").text(s);
    if (k === "i") ts.attr("font-style", "italic");
    if (k === "sub") {
      const d = size * 0.16;
      ts.attr("font-size", size * 0.55).attr("dy", d - shifted);
      shifted = d;
    } else if (shifted) {
      ts.attr("dy", -shifted);
      shifted = 0;
    }
  }
  return t;
}

const root = document.getElementById("root");
const isMajX = v => v % 5 === 0;
const isMajY = v => v % 10 === 0;

for (const p of panels) {
  const marks = [
    Plot.ruleY([0], {stroke: "#8a8a8a", strokeWidth: 1})
  ];
  for (const [data, color, sw] of p.lines) {
    marks.push(Plot.line(data, {x: d => d[0], y: d => d[1], stroke: color, strokeWidth: sw, curve: "monotone-x", strokeLinejoin: "round"}));
  }
  marks.push(
    Plot.ruleX([0], {stroke: "#000", strokeWidth: 1.3, strokeDasharray: "2,2.2"}),
    Plot.frame({stroke: "#000", strokeWidth: 1.3}),
    Plot.ruleX(xTickVals, {x: d => d, y1: -yMax, y2: d => -yMax + (isMajX(d) ? MAJ : MIN) / pxY, stroke: "#000", strokeWidth: 1.2}),
    Plot.ruleX(xTickVals, {x: d => d, y1: yMax, y2: d => yMax - (isMajX(d) ? MAJ : MIN) / pxY, stroke: "#000", strokeWidth: 1.2}),
    Plot.ruleY(yTickVals, {y: d => d, x1: xDomain[0], x2: d => xDomain[0] + (isMajY(d) ? MAJ : MIN) / pxX, stroke: "#000", strokeWidth: 1.2}),
    Plot.ruleY(yTickVals, {y: d => d, x1: xDomain[1], x2: d => xDomain[1] - (isMajY(d) ? MAJ : MIN) / pxX, stroke: "#000", strokeWidth: 1.2}),
    Plot.axisX({ticks: xLabelVals, tickSize: 0, tickPadding: 20, tickFormat: d => String(d), label: null, fontSize: 17, fontWeight: "bold", fill: "#000"})
  );
  const svg = Plot.plot({
    width: W, height: H,
    marginLeft: ML, marginRight: MR, marginTop: MT, marginBottom: MB,
    x: {domain: xDomain},
    y: {domain: [-yMax, yMax], axis: null},
    style: {fontFamily: FONT, fontSize: "17px", fontWeight: "bold", color: "#000", background: "transparent", overflow: "visible"},
    marks
  });
  svg.style.position = "absolute";
  svg.style.left = p.left + "px";
  svg.style.top = p.top + "px";
  root.appendChild(svg);

  const g = d3.select(svg).append("g").attr("transform", `translate(${ML},${MT})`);
  // panel title
  richText(g, 23.5, 40, p.title, 23);
  // legend
  p.legend.items.forEach(([color, parts], i) => {
    const yy = p.legend.rows[i];
    g.append("line").attr("x1", p.legend.lx[0]).attr("x2", p.legend.lx[1]).attr("y1", yy).attr("y2", yy)
      .attr("stroke", color).attr("stroke-width", color === GRAY ? 1.8 : 2.2);
    richText(g, p.legend.tx, yy + 7, parts, 22);
  });
  // x-axis title
  richText(g, 242, FH + p.titleDy, [S("E", "i"), S(" - "), S("E", "i"), S("F", "sub"), S(" / eV")], 24, "middle");
}
</script>
</body>
</html>
